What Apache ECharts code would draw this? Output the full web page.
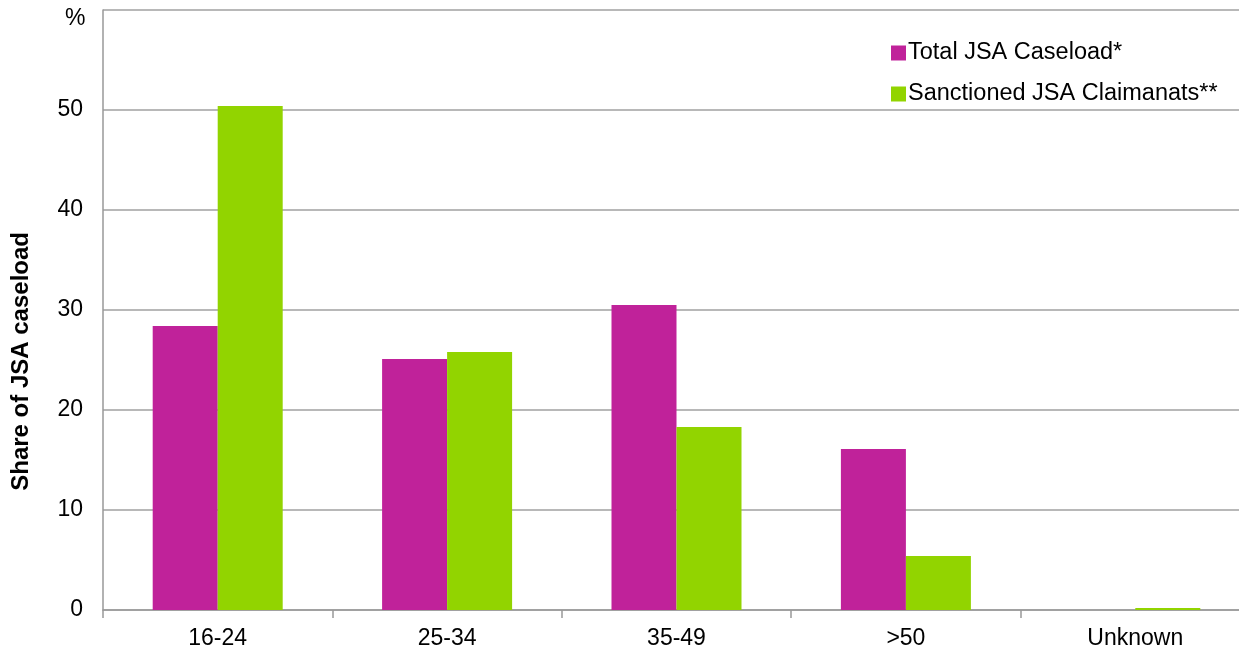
<!DOCTYPE html>
<html>
<head>
<meta charset="utf-8">
<script src="https://cdn.jsdelivr.net/npm/echarts@6/dist/echarts.min.js"></script>
<style>
html,body{margin:0;padding:0;background:#fff;overflow:hidden;}
#chart{width:1250px;height:651px;}
</style>
</head>
<body>
<div id="chart"></div>
<script>
const categories = ['16-24', '25-34', '35-49', '>50', 'Unknown'];
const totalCaseload = [28.4, 25.1, 30.5, 16.1, 0];
const sanctioned = [50.4, 25.8, 18.3, 5.4, 0.2];
const seriesNames = ['Total JSA Caseload*', 'Sanctioned JSA Claimanats**'];

const font = '"Liberation Sans", Arial, sans-serif';
const chart = echarts.init(document.getElementById('chart'));
chart.setOption({
  animation: false,
  textStyle: { fontFamily: font },
  grid: { left: 103, right: 0, top: 10, bottom: 41, containLabel: false },
  legend: {
    orient: 'vertical',
    left: 886,
    top: 36,
    itemWidth: 15,
    itemHeight: 15,
    itemGap: 17,
    icon: 'rect',
    textStyle: { fontSize: 23.5, lineHeight: 24, color: '#000', fontFamily: font, padding: [0, 0, 0, -3] },
    data: seriesNames
  },
  xAxis: {
    type: 'category',
    data: categories,
    axisLine: { lineStyle: { color: '#999', width: 1.5 } },
    axisTick: { show: true, length: 8, lineStyle: { color: '#999', width: 1.5 } },
    axisLabel: { fontSize: 23, color: '#000', margin: 17, fontFamily: font }
  },
  yAxis: {
    type: 'value',
    min: 0,
    max: 60,
    interval: 10,
    axisLine: { show: true, lineStyle: { color: '#999', width: 1.5 } },
    axisTick: { show: false },
    axisLabel: {
      fontSize: 23, color: '#000', margin: 20, fontFamily: font,
      padding: [5, 0, 0, 0],
      formatter: v => (v === 60 ? '' : String(v))
    },
    splitLine: { lineStyle: { color: '#a0a0a0', width: 1.5 } }
  },
  graphic: [
    {
      type: 'text',
      left: 65,
      top: 7,
      style: { text: '%', font: '23px ' + font, fill: '#000' }
    },
    {
      type: 'text',
      left: 9,
      top: 232,
      rotation: Math.PI / 2,
      style: {
        text: 'Share of JSA caseload',
        font: 'bold 24px ' + font,
        fill: '#000'
      }
    }
  ],
  series: [
    {
      name: seriesNames[0],
      type: 'bar',
      data: totalCaseload,
      barWidth: 65,
      barGap: '0%',
      itemStyle: { color: '#C0229A' }
    },
    {
      name: seriesNames[1],
      type: 'bar',
      data: sanctioned,
      barWidth: 65,
      barGap: '0%',
      itemStyle: { color: '#92D400' }
    }
  ]
});
</script>
</body>
</html>
